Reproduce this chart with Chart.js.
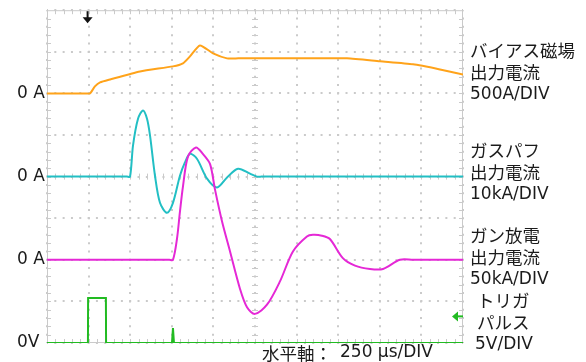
<!DOCTYPE html>
<html>
<head>
<meta charset="utf-8">
<script src="https://cdn.jsdelivr.net/npm/chart.js@4.4.1/dist/chart.umd.min.js"></script>
<style>
  html, body { margin: 0; background: #fff; }
  #wrap { width: 586px; height: 362px; }
</style>
</head>
<body>
<div id="wrap"><canvas id="scope"></canvas></div>
<script>
// Oscilloscope capture: 4 channels, time in μs from trigger (250 μs/DIV)

// bias field supply current (A)
const biasT = [-250, -20, 8, 38, 69, 129, 309, 507, 567, 609, 669, 748, 832, 900, 1270, 1553, 1751, 1950, 2112, 2250];
const biasA = [0, 0, 0, 84, 132, 168, 264, 325, 361, 445, 577, 481, 421, 421, 421, 421, 385, 349, 288, 228];

// gas puff supply current (kA)
const puffT = [-250, 230, 249, 267, 297, 327, 351, 369, 399, 429, 471, 507, 549, 579, 609, 651, 712, 772, 832, 898, 970, 1012, 1040, 2250];
const puffKA = [0, 0, 0, 7.5, 13.9, 15.9, 13.9, 9.9, 0.2, -6.3, -8.7, -6.3, 0.2, 3.4, 5.5, 4.3, -0.5, -2.6, -0.2, 1.9, 0.7, 0, 0, 0];

// gun discharge current (kA)
const gunT = [-250, 485, 507, 531, 549, 567, 597, 645, 688, 730, 760, 802, 850, 910, 952, 1000, 1072, 1150, 1228, 1312, 1348, 1402, 1450, 1528, 1601, 1691, 1769, 1871, 1950, 2250];
const gunKA = [0, 0, 0, 25, 58, 88, 124, 135, 127, 115, 84, 46, 10, -35, -57, -65, -54, -26, 10, 28, 30, 29, 25, 2, -7, -11, -11, 0, 0, 0];

// trigger pulse (V)
const trigT = [-250, -4, -3, 104, 105, 501, 507, 513, 2250];
const trigV = [0, 0, 5.4, 5.4, 0, 0, 1.8, 0, 0];
const trigLevelV = 3.2;

// channel settings: units per division, zero offset (div from bottom)
const perDiv = [500, 10, 50, 5];
const zeroDiv = [6, 4, 2, 0];
const zeroLabels = ['0 A', '0 A', '0 A', '0V'];
const channelText = [
  ['バイアス磁場', '出力電流', '500A/DIV'],
  ['ガスパフ', '出力電流', '10kA/DIV'],
  ['ガン放電', '出力電流', '50kA/DIV'],
  ['トリガ', 'パルス', '5V/DIV']
];
const timeText = ['水平軸：', '250 μs/DIV'];

const colors = ['#ffa31a', '#22bfc4', '#e528d6', '#22bb22'];
const latin = '"DejaVu Sans", sans-serif';
const cjk = '"Noto Sans CJK JP", sans-serif';
const ink = '#1b1b1b';
const gridCol = '#cacaca';

function trace(ts, vs, ch) {
  return ts.map((t, i) => ({ x: t, y: zeroDiv[ch] + vs[i] / perDiv[ch] }));
}

const overlay = {
  id: 'overlay',
  beforeDatasetsDraw(chart) {
    const { ctx, chartArea: a, scales: { x, y } } = chart;
    const dx = (a.right - a.left) / 50, dy = (a.bottom - a.top) / 40;
    ctx.save();
    ctx.strokeStyle = gridCol;
    ctx.lineWidth = 1;
    ctx.strokeRect(a.left + 0.5, a.top + 0.5, a.right - a.left - 1, a.bottom - a.top - 1);
    ctx.beginPath();
    const cx = x.getPixelForValue(1000), cy = y.getPixelForValue(4);
    for (let i = 1; i < 50; i++) {
      const px = Math.round(a.left + i * dx) + 0.5;
      ctx.moveTo(px, a.top); ctx.lineTo(px, a.top + 4);
      ctx.moveTo(px, a.bottom); ctx.lineTo(px, a.bottom - 4);
      ctx.moveTo(px, cy - 3); ctx.lineTo(px, cy + 3);
    }
    for (let j = 1; j < 40; j++) {
      const py = Math.round(a.top + j * dy) + 0.5;
      ctx.moveTo(a.left, py); ctx.lineTo(a.left + 4, py);
      ctx.moveTo(a.right, py); ctx.lineTo(a.right - 4, py);
      ctx.moveTo(cx - 3, py); ctx.lineTo(cx + 3, py);
    }
    ctx.stroke();
    ctx.restore();
  },
  afterDraw(chart) {
    const { ctx, chartArea: a, scales: { x, y } } = chart;
    ctx.save();
    // trigger position marker
    const tx = x.getPixelForValue(0) - 1;
    ctx.fillStyle = '#111';
    ctx.fillRect(tx - 1, a.top + 1, 2, 7);
    ctx.beginPath();
    ctx.moveTo(tx - 5, a.top + 7); ctx.lineTo(tx + 5, a.top + 7); ctx.lineTo(tx, a.top + 13);
    ctx.closePath(); ctx.fill();
    // trigger level marker
    const ly = y.getPixelForValue(zeroDiv[3] + trigLevelV / perDiv[3]);
    ctx.fillStyle = colors[3];
    ctx.fillRect(a.right - 9, ly - 1, 9, 2);
    ctx.beginPath();
    ctx.moveTo(a.right - 11, ly); ctx.lineTo(a.right - 5, ly - 5); ctx.lineTo(a.right - 5, ly + 5);
    ctx.closePath(); ctx.fill();
    // channel captions
    ctx.fillStyle = ink;
    ctx.textBaseline = 'middle';
    const firstY = [50, 150, 235, 300];
    const leftX = [470, 470, 470, 477];
    channelText.forEach((lines, ch) => {
      lines.forEach((s, k) => {
        const isLatin = /^[\x20-\x7e]+$/.test(s);
        ctx.font = isLatin ? '17px ' + latin : '17.5px ' + cjk;
        ctx.fillText(s, leftX[ch] - (ch === 3 && isLatin ? 2 : 0), firstY[ch] + k * 22.2);
      });
    });
    // horizontal scale caption
    ctx.font = '17.5px ' + cjk;
    ctx.fillText(timeText[0], 262, 353);
    ctx.font = '17px ' + latin;
    ctx.fillText(timeText[1], 340, 353);
    ctx.restore();
  }
};

new Chart(document.getElementById('scope'), {
  type: 'line',
  data: {
    datasets: [
      { data: trace(gunT, gunKA, 2), borderColor: colors[2], tension: 0.3 },
      { data: trace(puffT, puffKA, 1), borderColor: colors[1], tension: 0.3 },
      { data: trace(biasT, biasA, 0), borderColor: colors[0], tension: 0.2 },
      { data: trace(trigT, trigV, 3), borderColor: colors[3], tension: 0 }
    ]
  },
  options: {
    responsive: true,
    maintainAspectRatio: false,
    animation: false,
    layout: { padding: { left: 17, top: 10, right: 123, bottom: 19 } },
    elements: { point: { radius: 0 }, line: { borderWidth: 2 } },
    plugins: { legend: { display: false }, tooltip: { enabled: false } },
    scales: {
      x: {
        type: 'linear', min: -250, max: 2250,
        ticks: { display: false, stepSize: 250 },
        grid: { color: gridCol, lineWidth: 2, drawTicks: false },
        border: { display: false, dash: [2, 6.32], dashOffset: 1 },
        afterFit: s => { s.height = 0; }
      },
      y: {
        min: 0, max: 8,
        ticks: {
          stepSize: 1, crossAlign: 'far', color: ink, padding: 0,
          font: { family: latin, size: 17 },
          callback: v => { const i = zeroDiv.indexOf(v); return i < 0 ? '' : zeroLabels[i]; }
        },
        grid: { color: gridCol, lineWidth: 2, drawTicks: false },
        border: { display: false, dash: [2, 6.32], dashOffset: 1 },
        afterFit: s => { s.width = 30; }
      }
    }
  },
  plugins: [overlay]
});
</script>
</body>
</html>
